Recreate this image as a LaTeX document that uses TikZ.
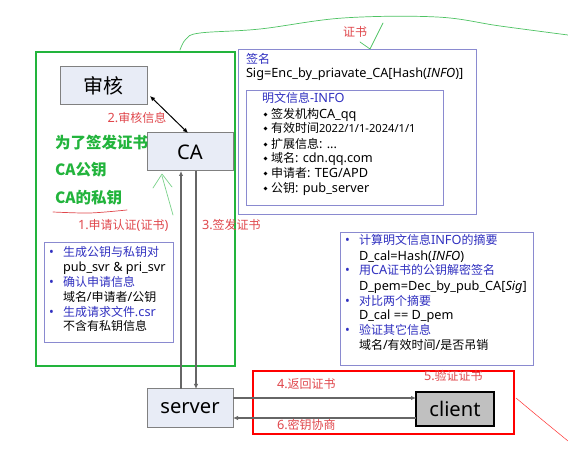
\documentclass[tikz,border=0pt]{standalone}
\usepackage{fontspec}
\setmainfont{Noto Sans}[Scale=1.06]
\newfontfamily\cjk{Noto Sans CJK SC}
\newcommand\z[1]{{\cjk #1}}
\usetikzlibrary{arrows.meta,calc}
\definecolor{gbox}{HTML}{22B43C}
\definecolor{redl}{HTML}{E0474C}
\definecolor{bluet}{HTML}{3030C0}
\definecolor{blueb}{HTML}{8A8AD0}
\definecolor{boxf}{HTML}{E8ECF6}
\definecolor{arrg}{HTML}{666666}
\definecolor{clientf}{HTML}{C0C0C0}
\begin{document}
\begin{tikzpicture}[x=1pt,y=-1pt,
  every node/.style={inner sep=0pt,outer sep=0pt},
  txt/.style={font=\fontsize{12}{14}\selectfont, anchor=west, text height=8.5pt, text depth=2.5pt},
  blu/.style={txt,text=bluet},
  redlab/.style={txt,text=redl},
  grn/.style={font=\fontsize{15.5}{18}\selectfont\cjk\bfseries, text=gbox, anchor=west},
  flowbox/.style={draw=gray, fill=boxf, line width=1pt, font=\fontsize{19}{23}\selectfont},
  bluebox/.style={draw=blueb, line width=1pt},
  dot/.style={circle, fill=black, minimum size=3.6pt},
  garr/.style={draw=arrg, line width=1.5pt, -{Latex[length=5pt,width=4.5pt]}},
  hand/.style={line width=0.7pt, line cap=round, line join=round}
]
\useasboundingbox[fill=white] (0,0) rectangle (568,462);

% frames
\node[draw=gbox, line width=1.5pt, minimum width=199pt, minimum height=314pt] (greenbox) at (135.5,209) {};
\node[bluebox, minimum width=238pt, minimum height=165pt] (cert) at (357,132.5) {};
\node[bluebox, minimum width=197pt, minimum height=115pt] (info) at (344.5,148.5) {};
\node[bluebox, minimum width=129pt, minimum height=100pt] (csr) at (108.5,293) {};
\node[bluebox, minimum width=193pt, minimum height=133pt] (verify) at (436.5,299.5) {};
\node[draw=red, line width=1.5pt, minimum width=261pt, minimum height=63pt] (redbox) at (383.5,402.5) {};

% main boxes
\node[flowbox, minimum width=87pt, minimum height=38pt] (shenhe) at (103.5,86) {\z{\fontsize{20}{24}\selectfont 审核}};
\node[flowbox, minimum width=86pt, minimum height=38pt] (ca) at (190,152) {CA};
\node[flowbox, minimum width=86pt, minimum height=39pt] (server) at (190,408.5) {server};
\node[draw=black, fill=clientf, line width=1.5pt, minimum width=78pt, minimum height=34pt, font=\fontsize{19}{23}\selectfont] (client) at (455,409) {client};

% connectors
\draw[line width=1pt, {Latex[length=5pt,width=4.5pt]}-{Latex[length=5pt,width=4.5pt]}] ($(shenhe.south east)+(3,-9)$) -- ($(ca.north)+(-2,0)$);
\draw[garr] ($(server.north)+(-9,0)$) -- ($(ca.south)+(-9,0)$);
\draw[garr] ($(ca.south)+(6,0)$) -- ($(server.north)+(6,0)$);
\draw[garr] ($(server.east)+(0,-10.5)$) -- ($(client.west)+(0,-11)$);
\draw[garr] ($(client.west)+(0,9)$) -- ($(server.east)+(0,9.5)$);

% red labels
\node[redlab, anchor=center] (l2) at (137,120) {2.\z{审核信息}};
\node[redlab] (l1) at (78,227) {1.\z{申请认证}(\z{证书})};
\node[redlab] (l3) at (202,227) {3.\z{签发证书}};
\node[redlab] (lcert) at (343,34) {\z{证书}};
\node[redlab] (l4) at (277,386) {4.\z{返回证书}};
\node[redlab] (l6) at (277,426) {6.\z{密钥协商}};
\node[redlab] (l5) at (424,378) {5.\z{验证证书}};

% green notes
\node[grn] (g1) at (55,143) {为了签发证书};
\node[grn] (g2) at (55,170) {CA公钥};
\node[grn] (g3) at (55,198) {CA的私钥};

% certificate content
\node[blu] (sigt) at (246,61) {\z{签名}};
\node[txt] (sig) at (246,75) {Sig=Enc\_by\_priavate\_CA[Hash(\textit{INFO})]};
\node[blu] (infot) at (262,100) {\z{明文信息}-INFO};
\node[dot] (d1) at (265.5,114.5) {};
\node[dot] (d2) at (265.5,128.5) {};
\node[dot] (d3) at (265.5,144.5) {};
\node[dot] (d4) at (265.5,158.5) {};
\node[dot] (d5) at (265.5,173.5) {};
\node[dot] (d6) at (265.5,188.5) {};
\node[txt] (i1) at (271,116) {\z{签发机构}CA\_qq};
\node[txt] (i2) at (271,130) {\z{有效时间}{\fontsize{10.5}{13}\selectfont 2022/1/1-2024/1/1}};
\node[txt] (i3) at (271,146) {\z{扩展信息}: ...};
\node[txt] (i4) at (271,160) {\z{域名}: cdn.qq.com};
\node[txt] (i5) at (271,175) {\z{申请者}: TEG/APD};
\node[txt] (i6) at (271,190) {\z{公钥}: pub\_server};

% csr box content
\node[blu] (b1) at (49,254) {•};
\node[blu] (c1) at (63,254) {\z{生成公钥与私钥对}};
\node[txt] (c2) at (63,269) {pub\_svr \& pri\_svr};
\node[blu] (b2) at (49,284) {•};
\node[blu] (c3) at (63,284) {\z{确认申请信息}};
\node[txt] (c4) at (63,299) {\z{域名}/\z{申请者}/\z{公钥}};
\node[blu] (b3) at (49,314) {•};
\node[blu] (c5) at (63,314) {\z{生成请求文件}.csr};
\node[txt] (c6) at (63,328) {\z{不含有私钥信息}};

% verify box content
\node[blu] (vb1) at (345,242) {•};
\node[blu] (v1) at (359,242) {\z{计算明文信息}INFO\z{的摘要}};
\node[txt] (v2) at (359,258) {D\_cal=Hash(\textit{INFO})};
\node[blu] (vb2) at (345,272) {•};
\node[blu] (v3) at (359,272) {\z{用}CA\z{证书的公钥解密签名}};
\node[txt] (v4) at (359,288) {D\_pem=Dec\_by\_pub\_CA[\textit{Sig}]};
\node[blu] (vb3) at (345,303) {•};
\node[blu] (v5) at (359,303) {\z{对比两个摘要}};
\node[txt] (v6) at (359,317) {D\_cal == D\_pem};
\node[blu] (vb4) at (345,332) {•};
\node[blu] (v7) at (359,332) {\z{验证其它信息}};
\node[txt] (v8) at (359,347) {\z{域名}/\z{有效时间}/\z{是否吊销}};

% hand-drawn marks
\draw[hand, draw=gbox!80] plot[smooth, tension=0.6] coordinates {(180,50) (186,39) (200,33) (260,29) (343,18) (437,17) (500,26) (568,35)};
\draw[hand, draw=gbox!80] (383,23) -- (370,49) -- (360,42);
\draw[hand, draw=gbox!60] (153,188) -- (162,174) -- (172,187);
\draw[hand, draw=gbox!60] (162,176) -- (173,215);
\draw[hand, draw=redl] plot[smooth] coordinates {(53,212) (90,213) (127,210)};
\draw[line width=0.5pt, draw=red!80] plot[smooth] coordinates {(516,398) (540,418) (568,441)};
\end{tikzpicture}
\end{document}
